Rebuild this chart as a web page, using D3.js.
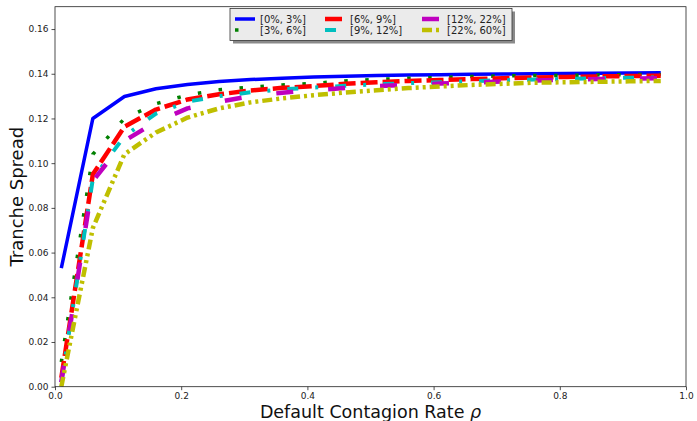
<!DOCTYPE html>
<html><head><meta charset="utf-8">
<script src="https://cdn.jsdelivr.net/npm/d3@7"></script>
<style>body{margin:0;background:#fff;} svg{display:block;font-family:"DejaVu Sans",sans-serif;}</style>
</head><body><svg id="c" width="697" height="421"></svg>
<script>
const rho = [0.01,0.06,0.11,0.16,0.21,0.26,0.31,0.36,0.41,0.46,0.51,0.56,0.61,0.66,0.71,0.76,0.81,0.86,0.91,0.96];
const s0_3   = [0.053,0.120,0.1298,0.1333,0.1352,0.1365,0.1374,0.1380,0.1385,0.1389,0.1392,0.1394,0.1396,0.1398,0.1399,0.1400,0.1401,0.1402,0.1403,0.1404];
const s3_6   = [0.011,0.104,0.120,0.1266,0.1305,0.1328,0.1340,0.1350,0.1357,0.1368,0.1375,0.1380,0.1383,0.1388,0.1390,0.1392,0.1393,0.1395,0.1396,0.1397];
const s6_9   = [0.004,0.095,0.1163,0.1240,0.1285,0.1308,0.1325,0.1337,0.1345,0.1355,0.1362,0.1368,0.1372,0.1376,0.1380,0.1383,0.1386,0.1388,0.1390,0.1391];
const s9_12  = [0.002,0.093,0.112,0.1222,0.1275,0.1300,0.1317,0.1330,0.1338,0.1346,0.1353,0.1358,0.1362,0.1367,0.1371,0.1374,0.1377,0.1380,0.1382,0.1384];
const s12_22 = [0.002,0.092,0.110,0.1185,0.1245,0.1275,0.1300,0.1315,0.1327,0.1336,0.1345,0.1350,0.1356,0.1360,0.1366,0.1370,0.1373,0.1376,0.1378,0.1380];
const s22_60 = [0.000,0.071,0.104,0.1137,0.1204,0.1245,0.1272,0.1290,0.1304,0.1316,0.1326,0.1336,0.1343,0.1350,0.1355,0.1360,0.1362,0.1364,0.1366,0.1368];
const seriesNames = ["[0%, 3%]","[3%, 6%]","[6%, 9%]","[9%, 12%]","[12%, 22%]","[22%, 60%]"];
const yTicks = [0,0.02,0.04,0.06,0.08,0.10,0.12,0.14,0.16];
const xTicks = [0,0.2,0.4,0.6,0.8,1.0];

const series = [
  {name:seriesNames[0], vals:s0_3,   color:"#0000ff", w:3.5, dash:null},
  {name:seriesNames[1], vals:s3_6,   color:"#008000", w:3.5, dash:"3.5,17.5"},
  {name:seriesNames[2], vals:s6_9,   color:"#ff0000", w:4.5, dash:"17,5"},
  {name:seriesNames[3], vals:s9_12,  color:"#00bfbf", w:4,   dash:"11,17,3,17"},
  {name:seriesNames[4], vals:s12_22, color:"#bf00bf", w:4.5, dash:"17,35"},
  {name:seriesNames[5], vals:s22_60, color:"#bfbf00", w:4.5, dash:"10,4,3,4,3,4"}
];

const svg = d3.select("#c");
const L=55, R=686, T=6.7, B=386.7;
const x = d3.scaleLinear().domain([0,1]).range([L,R]);
const y = d3.scaleLinear().domain([0,0.17]).range([B,T]);

svg.append("defs").append("clipPath").attr("id","clip")
  .append("rect").attr("x",L).attr("y",T).attr("width",R-L).attr("height",B-T);

const line = d3.line().x(d=>x(d[0])).y(d=>y(d[1]));
const g = svg.append("g").attr("clip-path","url(#clip)");
series.forEach(s=>{
  g.append("path").datum(rho.map((r,i)=>[r,s.vals[i]]))
    .attr("d",line).attr("fill","none").attr("stroke",s.color)
    .attr("stroke-width",s.w).attr("stroke-dasharray",s.dash)
    .attr("stroke-linejoin","round");
});

// axes
const xa = svg.append("g").attr("transform",`translate(0,${B})`)
  .call(d3.axisBottom(x).tickValues(xTicks).tickFormat(d3.format(".1f")).tickSize(3.5).tickSizeOuter(0));
const ya = svg.append("g").attr("transform",`translate(${L},0)`)
  .call(d3.axisLeft(y).tickValues(yTicks).tickFormat(d3.format(".2f")).tickSize(3.5).tickSizeOuter(0));
[xa,ya].forEach(a=>{
  a.selectAll("text").attr("font-size",9).attr("fill","#222").attr("font-family","DejaVu Sans");
  a.selectAll("line").attr("stroke","#222").attr("stroke-width",0.8);
  a.select(".domain").remove();
});
xa.selectAll("text").attr("y",4.5).attr("dy","0.9em");
// spines
svg.append("rect").attr("x",L).attr("y",T).attr("width",R-L).attr("height",B-T)
  .attr("fill","none").attr("stroke","#222").attr("stroke-width",0.8);

// labels
svg.append("text").attr("x",(L+R)/2).attr("y",417.5).attr("text-anchor","middle")
  .attr("font-size",17.5).attr("fill","#111")
  .html('Default Contagion Rate <tspan font-style="italic">ρ</tspan>');
svg.append("text").attr("transform",`translate(23,${(T+B)/2}) rotate(-90)`)
  .attr("text-anchor","middle").attr("font-size",18).attr("fill","#111").text("Tranche Spread");

// legend
const lg = svg.append("g");
const bx=230, by=8.5, bw=282, bh=32;
lg.append("rect").attr("x",bx+3).attr("y",by+3).attr("width",bw).attr("height",bh).attr("fill","#8a8a8a");
lg.append("rect").attr("x",bx).attr("y",by).attr("width",bw).attr("height",bh).attr("fill","#ebebeb").attr("stroke","#333").attr("stroke-width",0.8);
const colX = [235,325,422];
const rowY = [19,30];
series.forEach((s,i)=>{
  const c = Math.floor(i/2), r = i%2;
  lg.append("line").attr("x1",colX[c]).attr("x2",colX[c]+20).attr("y1",rowY[r]).attr("y2",rowY[r])
    .attr("stroke",s.color).attr("stroke-width",s.w).attr("stroke-dasharray",s.dash);
  lg.append("text").attr("x",colX[c]+25).attr("y",rowY[r]).attr("dy","0.35em")
    .attr("font-size",10).attr("fill","#222").text(s.name);
});
</script></body></html>
